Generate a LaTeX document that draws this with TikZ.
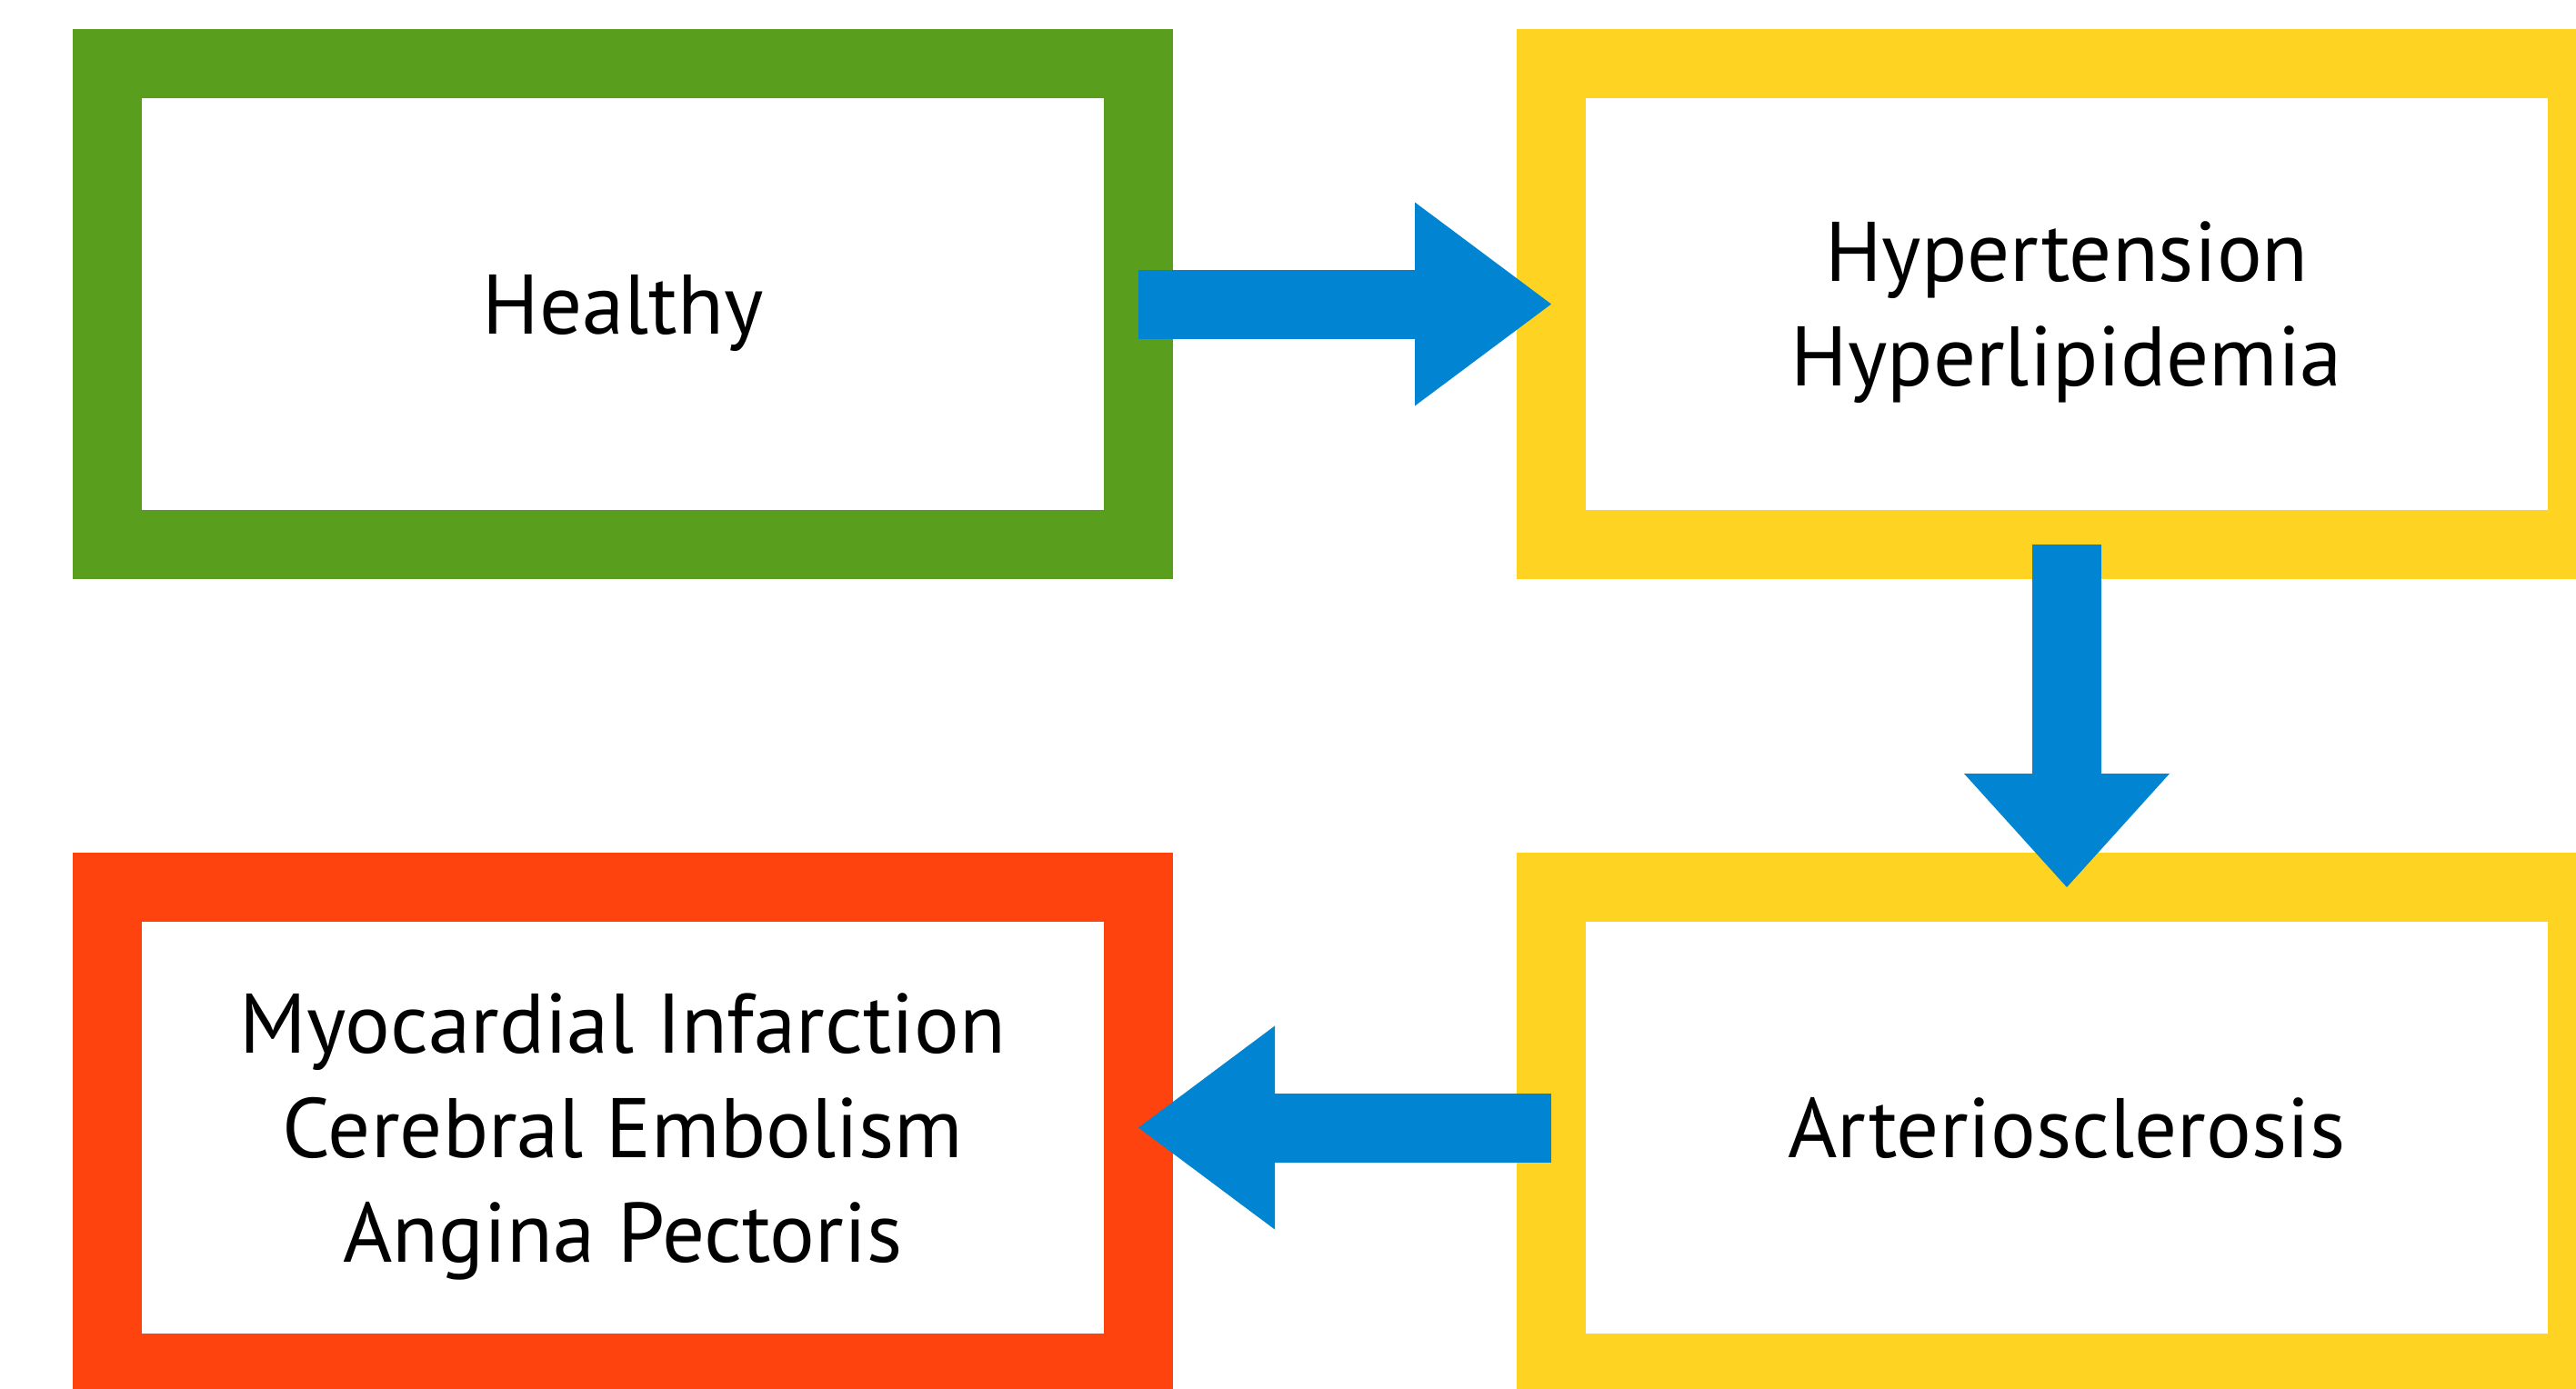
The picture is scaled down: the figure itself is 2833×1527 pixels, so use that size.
\documentclass[tikz,border=0pt]{standalone}
\usepackage{fontspec}
\setmainfont{PT Sans}
\usetikzlibrary{positioning,arrows.meta}
\definecolor{stagegreen}{RGB}{90,158,30}
\definecolor{stageyellow}{RGB}{255,211,34}
\definecolor{stagered}{RGB}{255,67,15}
\definecolor{flowblue}{RGB}{1,132,209}
\tikzset{
    stage-box/.style = {draw=#1, fill=white, line width=38pt, rectangle, outer sep=0pt, inner sep=0pt, minimum width=567pt, minimum height=264.5pt, align=center, text depth=0pt, font=\fontsize{46.5pt}{57.5pt}\selectfont},
    flow-arrow/.style = {draw=flowblue, line width=38pt, -{Triangle[length=75pt, width=112pt, line width=0pt]}},
}

\begin{document}
\begin{tikzpicture}[x=0.5pt, y=-0.5pt]
\useasboundingbox (0,0) rectangle (2833,1527);
\node[stage-box=stagegreen] (healthy) at (685,334.5) {Healthy};
\node[stage-box=stageyellow, right=227pt of healthy] (risk) {Hypertension\\Hyperlipidemia};
\node[stage-box=stageyellow, below=188.5pt of risk] (arterio) {Arteriosclerosis};
\node[stage-box=stagered, left=227pt of arterio] (disease) {Myocardial Infarction\\Cerebral Embolism\\Angina Pectoris};
\draw[flow-arrow] (healthy.east) -- (risk.west);
\draw[flow-arrow, -{Triangle[length=62.5pt, width=113pt, line width=0pt]}] (risk.south) -- (arterio.north);
\draw[flow-arrow] (arterio.west) -- (disease.east);
\end{tikzpicture}
\end{document}
